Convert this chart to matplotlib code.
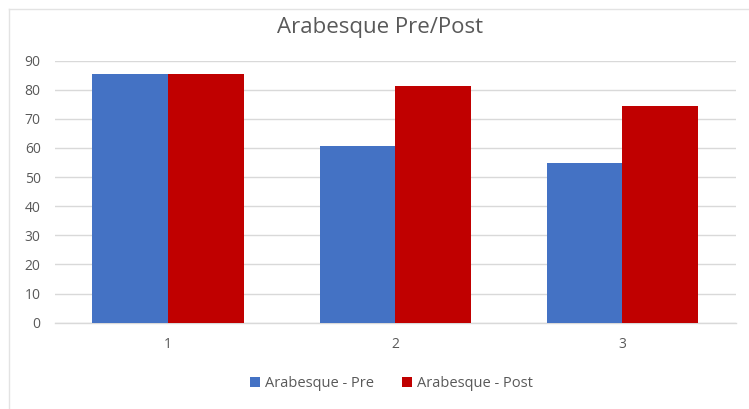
import numpy as np
import matplotlib.pyplot as plt
from matplotlib.lines import Line2D

plt.rcParams['font.family'] = ['Open Sans', 'DejaVu Sans']

categorias = ['1', '2', '3']
pre = [85.5, 60.5, 54.8]
post = [85.5, 81.2, 74.3]
etiquetas = ['Arabesque - Pre', 'Arabesque - Post']
titulo = 'Arabesque Pre/Post'

gris_texto = '#595959'
gris_linea = '#d9d9d9'

fig = plt.figure(figsize=(7.49, 4.09), dpi=100)
ax = fig.add_axes([0.0728, 0.211, 0.9098, 0.641])

x = np.arange(len(categorias))
ancho = 1 / 3
ax.bar(x - ancho / 2, pre, ancho, color='#4472c4', label=etiquetas[0], zorder=3)
ax.bar(x + ancho / 2, post, ancho, color='#c00000', label=etiquetas[1], zorder=3)

ax.set_xlim(-0.5, len(categorias) - 0.5)
ax.set_ylim(0, 90)
ax.set_yticks(range(0, 91, 10))
ax.set_xticks(x)
ax.set_xticklabels(categorias)
ax.grid(axis='y', color=gris_linea, linewidth=1, zorder=0)
for lado in ['top', 'right', 'left']:
    ax.spines[lado].set_visible(False)
ax.spines['bottom'].set_color(gris_linea)
ax.spines['bottom'].set_linewidth(1)
ax.tick_params(length=0, labelsize=10, colors=gris_texto)
ax.tick_params(axis='y', pad=10)
ax.tick_params(axis='x', pad=10)

fig.text(0.508, 0.933, titulo, ha='center', va='center', fontsize=16, color=gris_texto)

fig.legend(loc='center', bbox_to_anchor=(0.523, 0.062), ncol=2, frameon=False,
           fontsize=10.5, labelcolor=gris_texto, handlelength=0.7, handleheight=0.7,
           handletextpad=0.35, columnspacing=1.9)

# borde de la hoja
fig.add_artist(Line2D([9 / 749, 1], [1 - 8.7 / 409] * 2, color='#e3e3e3', linewidth=1))
fig.add_artist(Line2D([9 / 749] * 2, [0, 1 - 8.7 / 409], color='#e3e3e3', linewidth=1))

plt.savefig('out.png', dpi=100)
